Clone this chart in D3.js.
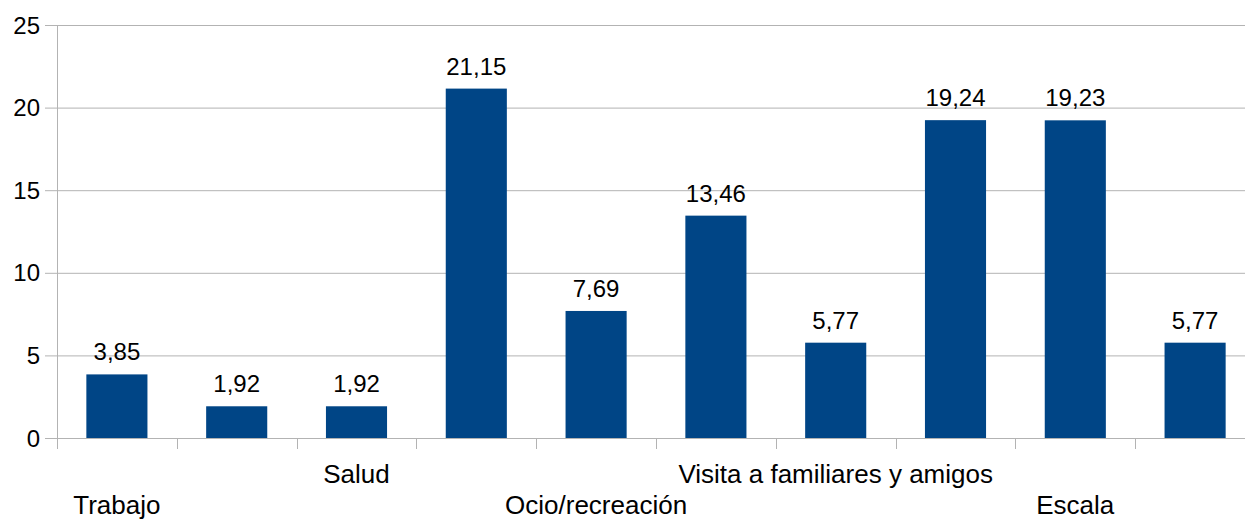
<!DOCTYPE html>
<html>
<head>
<meta charset="utf-8">
<script src="https://cdn.jsdelivr.net/npm/d3@7"></script>
<style>
body { margin: 0; background: #fff; }
text { font-family: "Liberation Sans", Arial, sans-serif; font-size: 24px; fill: #000; }
text.cat { font-size: 26px; }
</style>
</head>
<body>
<svg width="1245" height="521"></svg>
<script>
var categories = ["Trabajo", "", "Salud", "", "Ocio/recreación", "", "Visita a familiares y amigos", "", "Escala", ""];
var values = [3.85, 1.92, 1.92, 21.15, 7.69, 13.46, 5.77, 19.24, 19.23, 5.77];
var yTicks = [0, 5, 10, 15, 20, 25];

var svg = d3.select("svg");

var plotLeft = 57, plotTop = 25, plotBottom = 438, bandW = 119.8;

var x = d3.scaleBand()
	.domain(d3.range(categories.length))
	.range([plotLeft, plotLeft + bandW * categories.length])
	.paddingInner(0.49)
	.paddingOuter(0.245);

var y = d3.scaleLinear()
	.domain([0, 25])
	.range([plotBottom, plotTop]);

var fmt = function(v) { return d3.format(".2f")(v).replace(".", ","); };

// grid
svg.append("g").selectAll("line")
	.data(yTicks).enter()
	.append("line")
	.attr("x1", plotLeft - 12)
	.attr("x2", 1245)
	.attr("y1", function(d) { return y(d) + 0.5; })
	.attr("y2", function(d) { return y(d) + 0.5; })
	.attr("stroke", "#b3b3b3")
	.attr("stroke-width", 1);

svg.append("g").selectAll("text")
	.data(yTicks).enter()
	.append("text")
	.attr("x", 40)
	.attr("y", function(d) { return y(d) + 8.5; })
	.attr("text-anchor", "end")
	.text(function(d) { return d; });

// y axis line
svg.append("line")
	.attr("x1", plotLeft + 0.5).attr("x2", plotLeft + 0.5)
	.attr("y1", plotTop).attr("y2", plotBottom + 11)
	.attr("stroke", "#b3b3b3");

// category ticks
svg.append("g").selectAll("line")
	.data(d3.range(categories.length + 1)).enter()
	.append("line")
	.attr("x1", function(i) { return Math.round(plotLeft + i * bandW) + 0.5; })
	.attr("x2", function(i) { return Math.round(plotLeft + i * bandW) + 0.5; })
	.attr("y1", plotBottom)
	.attr("y2", plotBottom + 11)
	.attr("stroke", "#b3b3b3");

// bars
svg.append("g").selectAll("rect")
	.data(values).enter()
	.append("rect")
	.attr("x", function(d, i) { return x(i); })
	.attr("y", function(d) { return y(d); })
	.attr("width", x.bandwidth())
	.attr("height", function(d) { return y(0) - y(d); })
	.attr("fill", "#004586");

svg.append("g").selectAll("text")
	.data(values).enter()
	.append("text")
	.attr("x", function(d, i) { return x(i) + x.bandwidth() / 2; })
	.attr("y", function(d) { return y(d) - 14; })
	.attr("text-anchor", "middle")
	.text(fmt);

// category labels, staggered
svg.append("g").selectAll("text")
	.data(categories).enter()
	.append("text")
	.attr("class", "cat")
	.attr("x", function(d, i) { return x(i) + x.bandwidth() / 2; })
	.attr("y", function(d, i) { return (i / 2) % 2 === 0 ? 514 : 483; })
	.attr("text-anchor", "middle")
	.text(function(d) { return d; });
</script>
</body>
</html>
